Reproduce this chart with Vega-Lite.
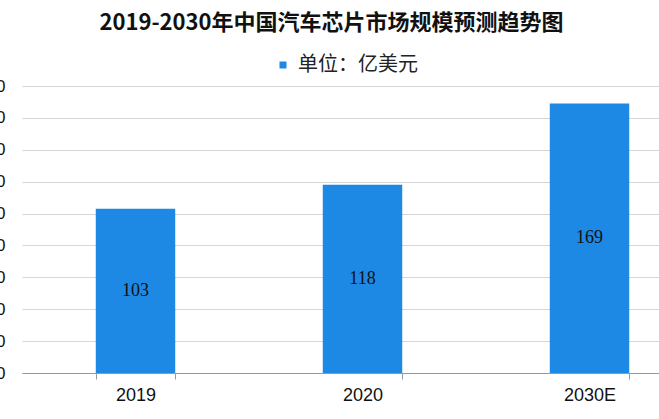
{
  "$schema": "https://vega.github.io/schema/vega-lite/v6.json",
  "autosize": "none",
  "width": 637,
  "height": 287,
  "padding": {"left": 22, "top": 86, "right": 0, "bottom": 46},
  "background": "white",
  "config": {"view": {"stroke": null}},
  "title": {
    "text": "2019-2030年中国汽车芯片市场规模预测趋势图",
    "font": "Noto Sans CJK SC",
    "fontSize": 22,
    "fontWeight": "bold",
    "color": "#111111",
    "anchor": "middle",
    "offset": 20,
    "dx": -9
  },
  "data": {
    "values": [
      {"year": "2019", "value": 103},
      {"year": "2020", "value": 118},
      {"year": "2030E", "value": 169}
    ]
  },
  "encoding": {
    "x": {
      "field": "year",
      "type": "nominal",
      "sort": null,
      "scale": {"range": [0, 681], "paddingInner": 0.65, "paddingOuter": 0.325},
      "axis": {
        "title": null,
        "labelAngle": 0,
        "labelFont": "Liberation Sans",
        "labelFontSize": 18,
        "labelColor": "#111111",
        "labelPadding": 7,
        "domainColor": "#999999",
        "tickColor": "#999999",
        "tickBand": "extent",
        "tickSize": 6,
        "grid": false
      }
    }
  },
  "layer": [
    {
      "mark": {"type": "bar"},
      "encoding": {
        "y": {
          "field": "value",
          "type": "quantitative",
          "scale": {"domain": [0, 180]},
          "axis": {
            "title": null,
            "values": [0, 20, 40, 60, 80, 100, 120, 140, 160, 180],
            "labelOverlap": false,
            "domain": false,
            "ticks": false,
            "labelPadding": 17,
            "labelFont": "Liberation Sans",
            "labelFontSize": 17,
            "labelColor": "#111111",
            "gridColor": "#d6d6d6",
            "gridWidth": 1
          }
        },
        "fill": {
          "datum": "单位：亿美元",
          "type": "nominal",
          "scale": {"range": ["#1E88E5"]},
          "legend": {
            "orient": "none",
            "legendX": 251,
            "legendY": -31,
            "title": null,
            "symbolType": "square",
            "symbolSize": 49,
            "symbolStrokeWidth": 0,
            "labelFont": "Noto Sans CJK SC",
            "labelFontSize": 20,
            "labelColor": "#222222",
            "labelOffset": 5
          }
        }
      }
    },
    {
      "transform": [{"calculate": "datum.value / 2", "as": "mid"}],
      "mark": {"type": "text", "font": "Liberation Serif", "fontSize": 18, "color": "#111111", "baseline": "middle"},
      "encoding": {
        "y": {
          "field": "mid",
          "type": "quantitative",
          "axis": {
            "title": null,
            "values": [0, 20, 40, 60, 80, 100, 120, 140, 160, 180],
            "labelOverlap": false,
            "domain": false,
            "ticks": false,
            "labelPadding": 17,
            "labelFont": "Liberation Sans",
            "labelFontSize": 17,
            "labelColor": "#111111",
            "gridColor": "#d6d6d6",
            "gridWidth": 1
          }
        },
        "text": {"field": "value", "type": "quantitative"}
      }
    }
  ]
}
